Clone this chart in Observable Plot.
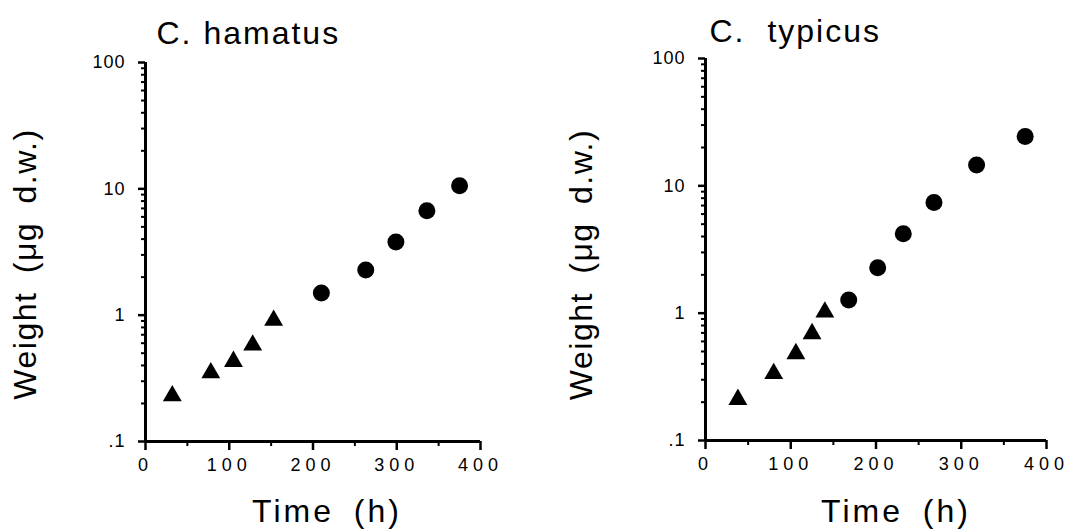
<!DOCTYPE html>
<html>
<head>
<meta charset="utf-8">
<script src="https://cdn.jsdelivr.net/npm/d3@7"></script>
<script src="https://cdn.jsdelivr.net/npm/@observablehq/plot@0.6"></script>
<style>
  html, body { margin: 0; padding: 0; background: white; }
  #wrap { display: flex; width: 1068px; height: 529px; }
</style>
</head>
<body>
<div id="wrap"></div>
<script>
// ---- data ----
const hamatusTime   = [32, 78, 105, 128, 153, 210, 263, 299, 336, 375];
const hamatusWeight = [0.23, 0.35, 0.43, 0.58, 0.91, 1.50, 2.28, 3.8, 6.7, 10.6];
const hamatusStage  = ["N", "N", "N", "N", "N", "C", "C", "C", "C", "C"];

const typicusTime   = [38, 80, 106, 125, 140, 168, 202, 232, 268, 318, 375];
const typicusWeight = [0.21, 0.335, 0.48, 0.69, 1.02, 1.27, 2.27, 4.2, 7.4, 14.6, 24.4];
const typicusStage  = ["N", "N", "N", "N", "N", "C", "C", "C", "C", "C", "C"];

const yTicks = [0.1, 1, 10, 100];
const yTickLabels = [".1", "1", "10", "100"];
const yMinorTicks = [0.2,0.3,0.4,0.5,0.6,0.7,0.8,0.9, 2,3,4,5,6,7,8,9, 20,30,40,50,60,70,80,90];
const xTicks = [0, 100, 200, 300, 400];
const xMinorTicks = [50, 150, 250, 350];

const yLabel = "Weight (μg d.w.)";
const xLabel = "Time (h)";

function panel(title, time, weight, stage, m, off) {
  const rows = time.map((t, i) => ({t, w: weight[i], s: stage[i]}));
  const svg = Plot.plot({
    width: 534,
    height: 529,
    marginLeft: m.left, marginRight: m.right, marginTop: m.top, marginBottom: m.bottom,
    x: {domain: [0, 400]},
    y: {type: "log", domain: [0.1, 100]},
    style: {fontFamily: "'Liberation Sans', Arial, sans-serif", color: "black", background: "white"},
    marks: [
      Plot.axisY(yMinorTicks, {tickSize: 4, text: null, strokeWidth: 2, label: null}),
      Plot.axisY(yTicks, {tickSize: 7, tickPadding: 13, strokeWidth: 2.5, fontSize: 18, label: null,
        tickFormat: d => yTickLabels[yTicks.indexOf(d)]}),
      Plot.axisX(xMinorTicks, {tickSize: 5, text: null, strokeWidth: 2, label: null}),
      Plot.axisX(xTicks, {tickSize: 9, tickPadding: 8, strokeWidth: 2.5, fontSize: 18, label: null}),
      Plot.ruleX([0], {strokeWidth: 3}),
      Plot.ruleY([0.1], {strokeWidth: 3}),
      Plot.dot(rows, {filter: d => d.s === "N", x: "t", y: "w", symbol: "triangle", r: 7, fill: "black", stroke: "none"}),
      Plot.dot(rows, {filter: d => d.s === "C", x: "t", y: "w", symbol: "circle", r: 8.5, fill: "black", stroke: "none"}),
      Plot.text([title], {frameAnchor: "top-left", textAnchor: "start", lineAnchor: "bottom",
        dx: off.titleDx, dy: off.titleDy, fontSize: 32}),
      Plot.text([yLabel], {frameAnchor: "left", rotate: -90, textAnchor: "middle", lineAnchor: "middle",
        dx: off.yLabDx, dy: off.yLabDy, fontSize: 32}),
      Plot.text([xLabel], {frameAnchor: "bottom", textAnchor: "middle", lineAnchor: "top",
        dx: off.xLabDx, dy: off.xLabDy, fontSize: 32})
    ]
  });
  // typographic spacing, to match the scanned figure's lettering
  svg.querySelectorAll("text").forEach(t => {
    const s = t.textContent;
    if (s === title) {
      t.style.letterSpacing = "2px";
      t.style.wordSpacing = off.titleWord + "px";
    } else if (s === yLabel) {
      t.style.letterSpacing = "1.5px";
      t.style.wordSpacing = "8px";
    } else if (s === xLabel) {
      t.style.letterSpacing = "3px";
      t.style.wordSpacing = "8px";
    } else if (yTickLabels.includes(s) && t.closest('g[aria-label="y-axis tick label"]')) {
      t.style.letterSpacing = "1px";
      t.style.fontSize = "18px";
    } else if (t.closest('g[aria-label="x-axis tick label"]')) {
      t.style.letterSpacing = "5px";
      t.style.fontSize = "18px";
    }
  });
  return svg;
}

const wrap = document.getElementById("wrap");
wrap.appendChild(panel("C. hamatus", hamatusTime, hamatusWeight, hamatusStage,
  {left: 145, right: 54, top: 62, bottom: 88},
  {titleDx: 11, titleDy: -19, titleWord: 0, yLabDx: -120, yLabDy: 12, xLabDx: 14, xLabDy: 58}));
wrap.appendChild(panel("C. typicus", typicusTime, typicusWeight, typicusStage,
  {left: 171, right: 22, top: 58, bottom: 89},
  {titleDx: 4, titleDy: -17, titleWord: 11, yLabDx: -124, yLabDy: 15, xLabDx: 20, xLabDy: 59}));
</script>
</body>
</html>
